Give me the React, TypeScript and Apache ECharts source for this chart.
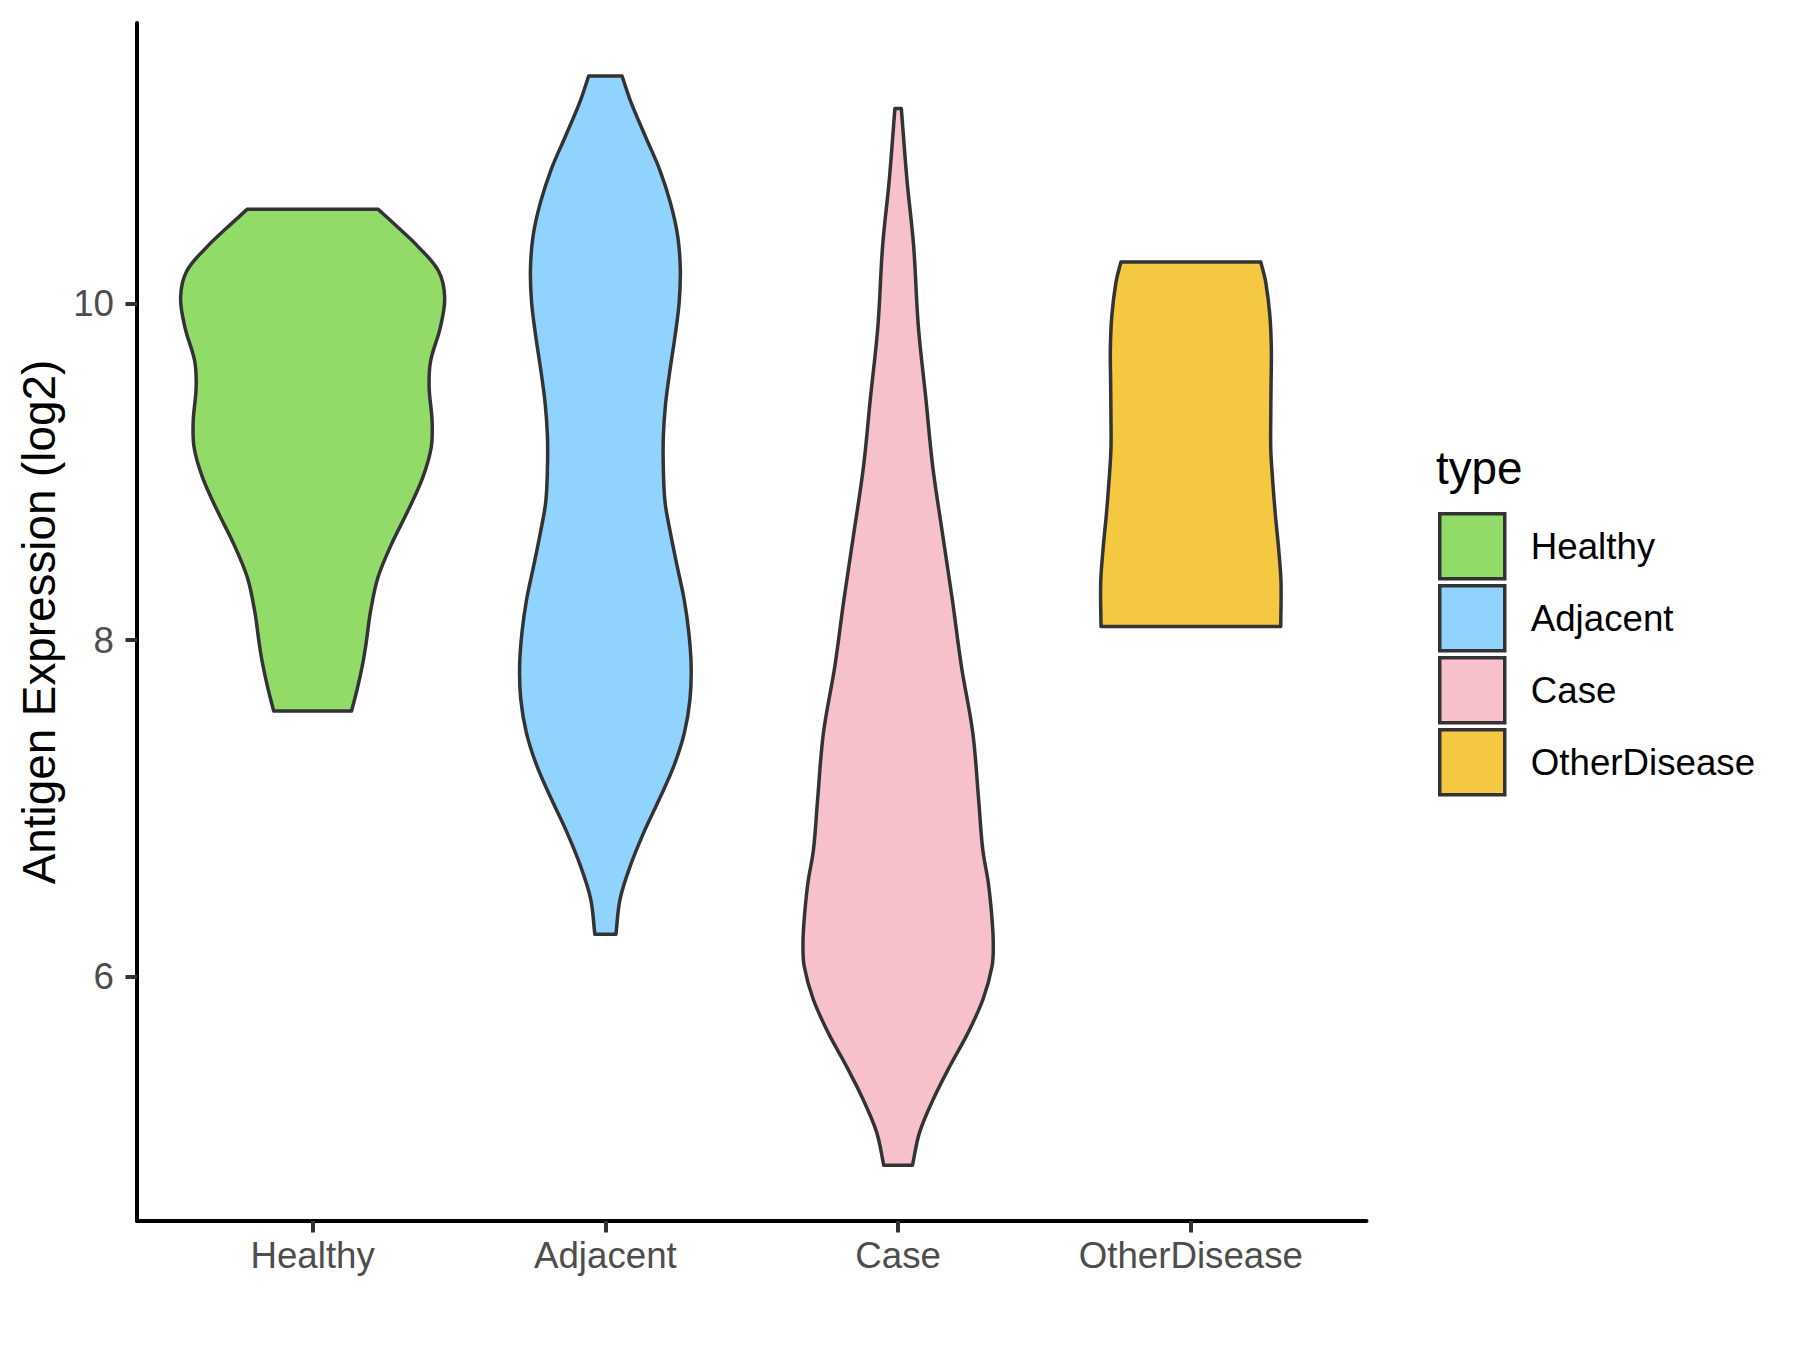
import React, { useEffect, useRef } from "react";
import * as echarts from "echarts";

const FONT = "'Liberation Sans', Arial, Helvetica, sans-serif";

const categories = ["Healthy", "Adjacent", "Case", "OtherDisease"];
const fillColors = ["#93DB69", "#91D3FF", "#F7C1CC", "#F5C842"];
const yTickValues = [6, 8, 10];
const legendTitle = "type";
const yAxisTitle = "Antigen Expression (log2)";

// Violin outlines: expression values (bottom -> top) and half-widths (category units)
const healthyValues = [7.578, 7.714, 7.85, 7.974, 8.172, 8.371, 8.568, 8.766, 8.965, 9.143, 9.301, 9.499, 9.657, 9.856, 10.034, 10.192, 10.35, 10.45, 10.558];
const healthyHalfWidths = [0.133, 0.153, 0.17, 0.182, 0.198, 0.223, 0.269, 0.325, 0.376, 0.405, 0.408, 0.398, 0.403, 0.436, 0.451, 0.43, 0.353, 0.292, 0.224];

const adjacentValues = [6.252, 6.46, 6.658, 6.856, 7.054, 7.252, 7.45, 7.648, 7.846, 8.044, 8.242, 8.44, 8.638, 8.816, 9.014, 9.212, 9.41, 9.608, 9.806, 10.004, 10.202, 10.4, 10.598, 10.796, 10.994, 11.192, 11.35];
const adjacentHalfWidths = [0.036, 0.05, 0.085, 0.131, 0.184, 0.234, 0.27, 0.289, 0.293, 0.285, 0.269, 0.245, 0.222, 0.204, 0.198, 0.198, 0.206, 0.221, 0.238, 0.252, 0.256, 0.247, 0.222, 0.185, 0.136, 0.088, 0.057];

const caseValues = [4.88, 5.074, 5.272, 5.47, 5.668, 5.866, 6.064, 6.202, 6.36, 6.559, 6.757, 7.054, 7.45, 7.846, 8.242, 8.638, 9.034, 9.43, 9.865, 10.34, 10.737, 11.157];
const caseHalfWidths = [0.049, 0.073, 0.12, 0.177, 0.239, 0.29, 0.321, 0.325, 0.32, 0.308, 0.289, 0.275, 0.255, 0.216, 0.185, 0.151, 0.118, 0.095, 0.069, 0.053, 0.03, 0.011];

const otherValues = [8.08, 8.341, 8.539, 8.737, 8.935, 9.133, 9.331, 9.529, 9.727, 9.925, 10.123, 10.245];
const otherHalfWidths = [0.307, 0.308, 0.3, 0.289, 0.28, 0.273, 0.273, 0.274, 0.275, 0.27, 0.256, 0.239];

const violinValues = [healthyValues, adjacentValues, caseValues, otherValues];
const violinHalfWidths = [healthyHalfWidths, adjacentHalfWidths, caseHalfWidths, otherHalfWidths];

export default function App() {
  const ref = useRef<HTMLDivElement>(null);

  useEffect(() => {
    if (!ref.current) return;
    const chart = echarts.init(ref.current, null, { renderer: "svg" });

    const series = categories.map((name, k) => {
      const ys = violinValues[k];
      const hw = violinHalfWidths[k];
      return {
        type: "custom",
        name,
        coordinateSystem: "cartesian2d",
        itemStyle: { color: fillColors[k], borderColor: "#333333", borderWidth: 3.5 },
        data: ys.map((v, i) => [k + 1, v, hw[i]]),
        encode: { x: 0, y: 1 },
        renderItem: (params: any, api: any) => {
          if (params.dataIndex !== 0) return null;
          const n = ys.length;
          const left = ys.map((v, i) => api.coord([k + 1 - hw[i], v]));
          const right = ys.map((v, i) => api.coord([k + 1 + hw[i], v]));
          // corner points are doubled so that smoothing keeps the flat ends sharp
          const pts: number[][] = [];
          pts.push(left[0]);
          for (let i = 0; i < n; i++) pts.push(left[i]);
          pts.push(left[n - 1]);
          pts.push(right[n - 1]);
          for (let i = n - 1; i >= 0; i--) pts.push(right[i]);
          pts.push(right[0]);
          return {
            type: "polygon",
            shape: { points: pts, smooth: 0.35 },
            style: { fill: fillColors[k], stroke: "#333333", lineWidth: 3.5, lineJoin: "round" },
          };
        },
      };
    });

    chart.setOption({
      animation: false,
      backgroundColor: "#ffffff",
      textStyle: { fontFamily: FONT },
      title: {
        text: legendTitle,
        left: 1436,
        top: 445,
        padding: 0,
        textStyle: { fontSize: 45.8, fontWeight: "normal", color: "#000000", fontFamily: FONT },
      },
      grid: { left: 137, top: 23, right: 433.5, bottom: 129, containLabel: false },
      xAxis: {
        type: "value",
        min: 0.4,
        max: 4.6,
        splitLine: { show: false },
        axisLine: { show: true, lineStyle: { color: "#000000", width: 4 } },
        axisTick: { show: true, customValues: [1, 2, 3, 4], length: 11.5, lineStyle: { color: "#333333", width: 4 } },
        axisLabel: {
          show: true,
          customValues: [1, 2, 3, 4],
          formatter: (v: number) => categories[Math.round(v) - 1] ?? "",
          margin: 16,
          fontSize: 36.7,
          color: "#4D4D4D",
          fontFamily: FONT,
        },
      },
      yAxis: {
        type: "value",
        min: 4.549,
        max: 11.665,
        name: yAxisTitle,
        nameLocation: "middle",
        nameGap: 71,
        nameTextStyle: { fontSize: 45.8, color: "#000000", fontFamily: FONT },
        splitLine: { show: false },
        axisLine: { show: true, lineStyle: { color: "#000000", width: 4 } },
        axisTick: { show: true, customValues: yTickValues, length: 11.5, lineStyle: { color: "#333333", width: 4 } },
        axisLabel: {
          show: true,
          customValues: yTickValues,
          margin: 23,
          fontSize: 36.7,
          color: "#4D4D4D",
          fontFamily: FONT,
        },
      },
      legend: {
        orient: "vertical",
        left: 1438,
        top: 512,
        padding: 0,
        itemWidth: 65,
        itemHeight: 65,
        itemGap: 3.5,
        icon: "rect",
        itemStyle: { borderColor: "#333333", borderWidth: 3.5 },
        textStyle: { fontSize: 36.7, color: "#000000", fontFamily: FONT, padding: [0, 0, 0, 21] },
        data: categories,
      },
      series,
    });

    return () => chart.dispose();
  }, []);

  return (
    <div
      ref={ref}
      style={{ position: "fixed", left: 0, top: 0, width: 1800, height: 1350, background: "#ffffff" }}
    />
  );
}
